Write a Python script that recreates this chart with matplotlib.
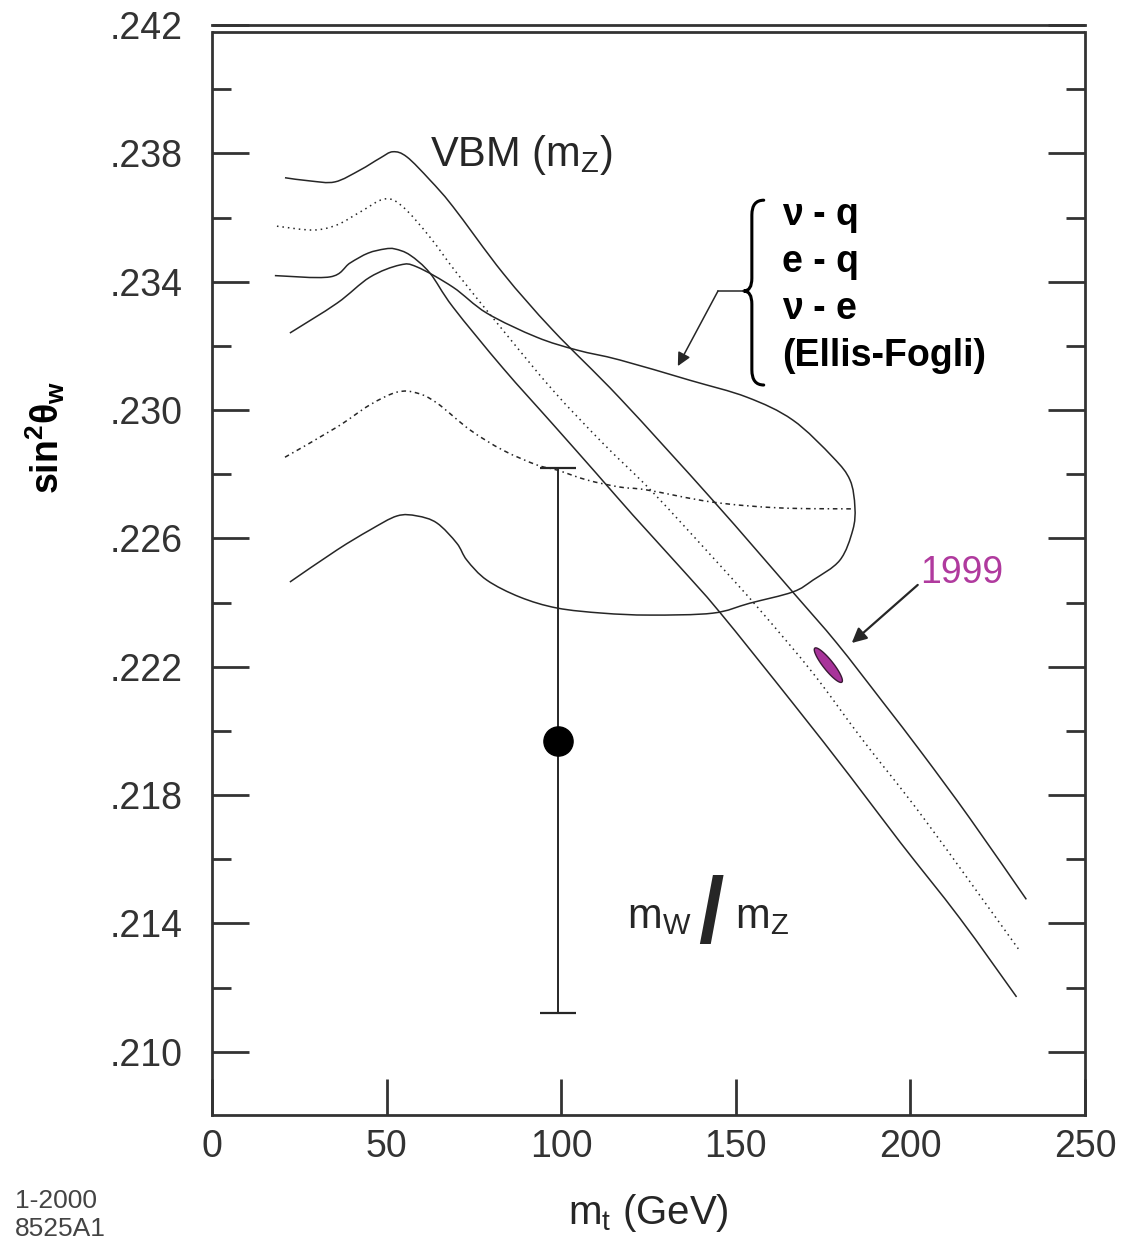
import numpy as np
import matplotlib.pyplot as plt
from matplotlib.path import Path
from matplotlib.patches import PathPatch, Polygon
from matplotlib.ticker import FixedLocator

plt.rcParams['font.family'] = ['Liberation Sans', 'DejaVu Sans']
plt.rcParams['mathtext.default'] = 'regular'

INK = '#262626'
AXIS = '#333333'
MAGENTA = '#b03a9e'

# VBM (m_Z) band: upper edge, central value, lower edge
vbm_hi_mt = [20.9, 28.1, 35.2, 42.4, 48.1, 51.8, 55.8, 62.4, 69.0, 83.3, 97.6,
             116.8, 143.4, 166.3, 178.9, 192.1, 203.5, 217.0, 233.2]
vbm_hi_s2w = [0.23724, 0.23714, 0.23711, 0.23748, 0.23785, 0.23805, 0.23789,
              0.23717, 0.23634, 0.23427, 0.23249, 0.23037, 0.22719, 0.22433,
              0.22274, 0.22090, 0.21928, 0.21728, 0.21475]

vbm_mid_mt = [18.6, 28.9, 35.8, 42.4, 49.5, 54.7, 62.4, 70.1, 83.3, 97.6,
              111.9, 126.2, 145.4, 156.9, 172.1, 186.4, 203.6, 230.9]
vbm_mid_s2w = [0.23573, 0.23561, 0.23577, 0.23617, 0.23658, 0.23633, 0.23539,
               0.23427, 0.23249, 0.23062, 0.22897, 0.22744, 0.22517, 0.22377,
               0.22180, 0.21971, 0.21731, 0.21321]

vbm_lo_mt = [18.0, 33.8, 39.5, 44.7, 49.5, 52.4, 56.7, 62.4, 69.0, 83.3, 97.6,
             110.2, 120.5, 134.0, 145.4, 166.3, 182.7, 197.0, 214.1, 230.4]
vbm_lo_s2w = [0.23419, 0.23415, 0.23458, 0.23489, 0.23502, 0.23502, 0.23483,
              0.23427, 0.23321, 0.23131, 0.22956, 0.22801, 0.22673, 0.22511,
              0.22370, 0.22087, 0.21859, 0.21654, 0.21417, 0.21171]

# neutral-current (Ellis-Fogli) allowed region, traced around its boundary
nc_edge_mt = [22.3, 35.8, 45.2, 53.8, 58.7, 69.0, 78.7, 93.0, 104.5, 116.8,
              136.8, 153.2, 166.3, 177.8, 182.7, 184.1, 183.5, 179.8, 172.1,
              166.3, 154.0, 143.4, 125.4, 111.9, 98.8, 88.2, 78.7, 73.0, 70.1,
              64.4, 58.7, 53.0, 45.2, 35.8, 22.3]
nc_edge_s2w = [0.23240, 0.23333, 0.23414, 0.23452, 0.23446, 0.23383, 0.23302,
               0.23227, 0.23187, 0.23156, 0.23093, 0.23040, 0.22969, 0.22853,
               0.22782, 0.22698, 0.22626, 0.22532, 0.22470, 0.22433, 0.22398,
               0.22367, 0.22361, 0.22367, 0.22383, 0.22417, 0.22470, 0.22532,
               0.22585, 0.22648, 0.22670, 0.22670, 0.22626, 0.22564, 0.22464]

nc_mid_mt = [20.9, 35.8, 45.2, 53.0, 58.7, 64.4, 73.9, 83.3, 93.0, 98.8, 107.4,
             116.8, 124.5, 143.4, 162.6, 183.5]
nc_mid_s2w = [0.22853, 0.22947, 0.23016, 0.23056, 0.23053, 0.23022, 0.22938,
              0.22875, 0.22829, 0.22813, 0.22782, 0.22760, 0.22751, 0.22713,
              0.22695, 0.22692]

# m_W / m_Z point
mwmz_mt = 99.0
mwmz_s2w = 0.2197
mwmz_err = 0.0085

# 1999 global fit contour: centre and half-axis vectors (mt, s2w)
fit99_mt = 176.5
fit99_s2w = 0.22205
fit99_major = (3.87, -0.00053)
fit99_minor = (1.12, 0.000097)

ymajor = [0.210, 0.214, 0.218, 0.222, 0.226, 0.230, 0.234, 0.238, 0.242]
ymajor_labels = ['.210', '.214', '.218', '.222', '.226', '.230', '.234', '.238', '.242']
yminor = [0.212, 0.216, 0.220, 0.224, 0.228, 0.232, 0.236, 0.240]
xmajor = [0, 50, 100, 150, 200, 250]


def smooth_path(xs, ys):
    # Catmull-Rom through the points, written out as cubic Bezier segments
    pts = np.column_stack([xs, ys])
    ext = np.vstack([pts[0], pts, pts[-1]])
    verts = [pts[0]]
    codes = [Path.MOVETO]
    for i in range(1, len(ext) - 2):
        p0, p1, p2, p3 = ext[i - 1], ext[i], ext[i + 1], ext[i + 2]
        verts += [p1 + (p2 - p0) / 6, p2 - (p3 - p1) / 6, p2]
        codes += [Path.CURVE4] * 3
    return Path(verts, codes)


def curve(ax, xs, ys, **kw):
    ax.add_patch(PathPatch(smooth_path(xs, ys), facecolor='none',
                           edgecolor=INK, lw=1.1, **kw))


fig = plt.figure(figsize=(11.24, 12.39), dpi=100)
ax = fig.add_axes([0.18861, 0.10008, 0.77669, 0.87974])
ax.set_xlim(0, 250)
ax.set_ylim(0.20803, 0.242)

curve(ax, vbm_hi_mt, vbm_hi_s2w)
curve(ax, vbm_mid_mt, vbm_mid_s2w, ls=(0, (1, 2.6)))
curve(ax, vbm_lo_mt, vbm_lo_s2w)
curve(ax, nc_edge_mt, nc_edge_s2w)
curve(ax, nc_mid_mt, nc_mid_s2w, ls=(0, (3, 2.4, 1, 2.4)))

ax.errorbar([mwmz_mt], [mwmz_s2w], yerr=[mwmz_err], fmt='o', color='black',
            ms=21, ecolor=INK, elinewidth=1.4, capsize=13, capthick=1.6)

t = np.linspace(0, 2 * np.pi, 120)
ell = np.column_stack([
    fit99_mt + np.cos(t) * fit99_major[0] + np.sin(t) * fit99_minor[0],
    fit99_s2w + np.cos(t) * fit99_major[1] + np.sin(t) * fit99_minor[1],
])
ax.add_patch(Polygon(ell, closed=True, facecolor='#a8339a',
                     edgecolor='#3a1a35', lw=1.0, zorder=4))

# labels on the plot
ax.text(62.4, 0.23760, 'VBM (m$_Z$)', fontsize=30, color=INK)
ax.text(202.7, 0.22461, '1999', fontsize=27, color=MAGENTA)
ax.annotate('', xy=(183.2, 0.22274), xytext=(202.1, 0.22455),
            arrowprops=dict(arrowstyle='-|>', color=INK, lw=1.6,
                            mutation_scale=22, shrinkA=0, shrinkB=0))

ax.text(118.8, 0.21386, 'm$_W$', fontsize=30, color=INK)
ax.text(143.0, 0.21417, '/', fontsize=66, fontweight='bold', color=INK,
        ha='center', va='center')
ax.text(149.7, 0.21386, 'm$_Z$', fontsize=30, color=INK)

# curly brace around the neutral-current processes
bx0, bx1, btip = 154.6, 158.0, 152.3
brace = Path(
    [(bx1, 0.23654), (bx0, 0.23654), (bx0, 0.23608),
     (bx0, 0.23411),
     (bx0, 0.23371), (btip, 0.23371),
     (bx0, 0.23371), (bx0, 0.23330),
     (bx0, 0.23125),
     (bx0, 0.23078), (bx1, 0.23078)],
    [Path.MOVETO, Path.CURVE3, Path.CURVE3, Path.LINETO, Path.CURVE3,
     Path.CURVE3, Path.CURVE3, Path.CURVE3, Path.LINETO, Path.CURVE3,
     Path.CURVE3])
ax.add_patch(PathPatch(brace, facecolor='none', edgecolor='black', lw=2.2,
                       capstyle='round', joinstyle='round'))
for i, txt in enumerate(['ν - q', 'e - q', 'ν - e', '(Ellis-Fogli)']):
    ax.text(163.2, 0.23577 - i * 0.001465, txt, fontsize=27,
            fontweight='bold', color='black')
ax.plot([144.9, 152.0], [0.23371, 0.23371], color=INK, lw=1.1)
ax.annotate('', xy=(133.4, 0.23137), xytext=(144.9, 0.23371),
            arrowprops=dict(arrowstyle='-|>', color=INK, lw=1.1,
                            mutation_scale=20, shrinkA=0, shrinkB=0))

# frame: double rule at the top, ticks inward on both sides
for side in ['left', 'right', 'bottom', 'top']:
    ax.spines[side].set_color(AXIS)
    ax.spines[side].set_linewidth(2.0)
ax.spines['left'].set_bounds(0.20803, 0.24178)
ax.spines['right'].set_bounds(0.20803, 0.24178)
ax.axhline(0.24178, color=AXIS, lw=2.0)

ax.yaxis.set_major_locator(FixedLocator(ymajor))
ax.set_yticklabels(ymajor_labels)
ax.yaxis.set_minor_locator(FixedLocator(yminor))
ax.xaxis.set_major_locator(FixedLocator(xmajor))
ax.tick_params(axis='y', which='major', direction='in', length=26.5, width=2,
               left=True, right=True, labelsize=27, pad=21, color=AXIS,
               labelcolor=AXIS)
ax.tick_params(axis='y', which='minor', direction='in', length=13.5, width=2,
               left=True, right=True, color=AXIS)
ax.tick_params(axis='x', which='major', direction='in', length=26, width=2,
               top=False, labelsize=27, pad=10, color=AXIS, labelcolor=AXIS)

ax.set_xlabel('m$_t$ (GeV)', fontsize=29, color=INK, va='center')
ax.xaxis.set_label_coords(0.5, -0.0899)
ax.set_ylabel('sin$^2$θ$_w$', fontsize=27, fontweight='bold', color='black',
              va='center', ha='center')
ax.yaxis.set_label_coords(-0.1913, 0.622)

fig.text(15 / 1124, 1 - 1208 / 1239, '1-2000', fontsize=19, color='#444444',
         va='baseline')
fig.text(15 / 1124, 1 - 1236 / 1239, '8525A1', fontsize=19, color='#444444',
         va='baseline')

fig.savefig('out.png', dpi=100)
